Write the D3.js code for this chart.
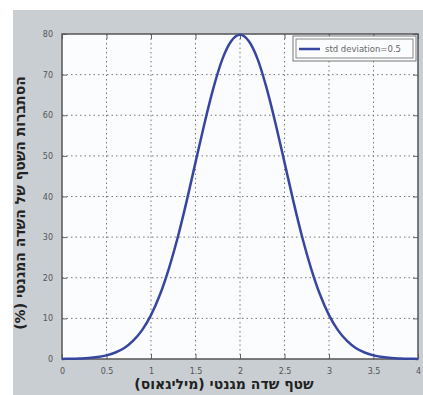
<!DOCTYPE html>
<html><head><meta charset="utf-8">
<script src="https://cdn.jsdelivr.net/npm/d3@7"></script>
<style>
html,body{margin:0;padding:0;background:#fff;}
svg{display:block;}
</style></head>
<body>
<svg id="chart" width="423" height="395"></svg>
<script>
// Data (std deviation = 0.5 curve, percent)
const xValues = [0,0.1,0.2,0.3,0.4,0.5,0.6,0.7,0.8,0.9,1.0,1.1,1.2,1.3,1.4,1.5,1.6,1.7,1.8,1.9,2.0,2.1,2.2,2.3,2.4,2.5,2.6,2.7,2.8,2.9,3.0,3.1,3.2,3.3,3.4,3.5,3.6,3.7,3.8,3.9,4.0];
const yValues = [0.03,0.05,0.12,0.24,0.5,0.9,1.6,2.7,4.5,7.1,10.8,15.8,22.2,29.9,38.8,48.4,57.9,66.6,73.7,78.2,79.8,78.2,73.7,66.6,57.9,48.4,38.8,29.9,22.2,15.8,10.8,7.1,4.5,2.7,1.6,0.9,0.5,0.24,0.12,0.05,0.03];
const xTicks = [0,0.5,1,1.5,2,2.5,3,3.5,4];
const xTickLabels = ["0","0.5","1","1.5","2","2.5","3","3.5","4"];
const yTicks = [0,10,20,30,40,50,60,70,80];
const legendLabel = "std deviation=0.5";
const xTitle = "שטף שדה מגנטי (מיליגאוס)";
const yTitle = "הסתברות השטף של השדה המגנטי (%)";

const svg = d3.select("#chart");
const L = 62, R = 418, T = 34, B = 359;

// gray background (scanned figure)
svg.append("rect").attr("x",13).attr("y",10).attr("width",410).attr("height",385).attr("fill","#c9ced2");

const x = d3.scaleLinear().domain([0,4]).range([L,R]);
const y = d3.scaleLinear().domain([0,80]).range([B,T]);

// plot area
svg.append("rect").attr("x",L).attr("y",T).attr("width",R-L).attr("height",B-T).attr("fill","#fbfcfd");

// grid
const grid = svg.append("g");
grid.selectAll(".gx").data(xTicks.slice(1,-1)).enter().append("line")
  .attr("x1",d=>x(d)).attr("x2",d=>x(d)).attr("y1",T).attr("y2",B)
  .attr("stroke","#777").attr("stroke-width",1).attr("stroke-dasharray","1.5,3");
grid.selectAll(".gy").data(yTicks.slice(1,-1)).enter().append("line")
  .attr("y1",d=>y(d)).attr("y2",d=>y(d)).attr("x1",L).attr("x2",R)
  .attr("stroke","#777").attr("stroke-width",1).attr("stroke-dasharray","1.5,3");

// axes
const xAxis = d3.axisBottom(x).tickValues(xTicks).tickFormat((d,i)=>xTickLabels[i]).tickSizeInner(-5).tickSizeOuter(0).tickPadding(9);
const yAxis = d3.axisLeft(y).tickValues(yTicks).tickFormat(d3.format("d")).tickSizeInner(-5).tickSizeOuter(0).tickPadding(9);
const gx = svg.append("g").attr("transform",`translate(0,${B})`).call(xAxis);
const gy = svg.append("g").attr("transform",`translate(${L},0)`).call(yAxis);
const gxt = svg.append("g").attr("transform",`translate(0,${T})`).call(d3.axisTop(x).tickValues(xTicks).tickFormat("").tickSizeInner(-5).tickSizeOuter(0));
const gyr = svg.append("g").attr("transform",`translate(${R},0)`).call(d3.axisRight(y).tickValues(yTicks).tickFormat("").tickSizeInner(-5).tickSizeOuter(0));
[gx,gy,gxt,gyr].forEach(g=>{
  g.select(".domain").remove();
  g.selectAll(".tick line").attr("stroke","#666");
  g.selectAll(".tick text").attr("fill","#555").attr("font-family","DejaVu Sans, sans-serif").attr("font-size",8);
});

// frame
svg.append("rect").attr("x",L).attr("y",T).attr("width",R-L).attr("height",B-T)
  .attr("fill","none").attr("stroke","#555").attr("stroke-width",1.5);

// curve
const line = d3.line().x((d,i)=>x(xValues[i])).y(d=>y(d)).curve(d3.curveMonotoneX);
svg.append("path").datum(yValues).attr("d",line).attr("fill","none")
  .attr("stroke","#3646a0").attr("stroke-width",2.5);

// legend
const lg = svg.append("g");
lg.append("rect").attr("x",293).attr("y",36).attr("width",123).attr("height",25).attr("fill","#fbfcfd").attr("stroke","#777").attr("stroke-width",1);
lg.append("rect").attr("x",296).attr("y",39).attr("width",117).attr("height",19).attr("fill","none").attr("stroke","#888").attr("stroke-width",1);
lg.append("line").attr("x1",299).attr("x2",320).attr("y1",49).attr("y2",49).attr("stroke","#3646a0").attr("stroke-width",2.5);
lg.append("text").attr("x",325).attr("y",52).attr("font-family","DejaVu Sans, sans-serif").attr("font-size",8.5).attr("fill","#666").text(legendLabel);

// titles
svg.append("text").attr("x",224).attr("y",389).attr("text-anchor","middle").attr("direction","rtl")
  .attr("font-family","DejaVu Sans, sans-serif").attr("font-weight","bold").attr("font-size",14).attr("fill","#222").text(xTitle);
svg.append("text").attr("transform","translate(25,203) rotate(-90)").attr("text-anchor","middle").attr("direction","rtl")
  .attr("font-family","DejaVu Sans, sans-serif").attr("font-weight","bold").attr("font-size",14).attr("fill","#222").text(yTitle);
</script>
</body></html>
